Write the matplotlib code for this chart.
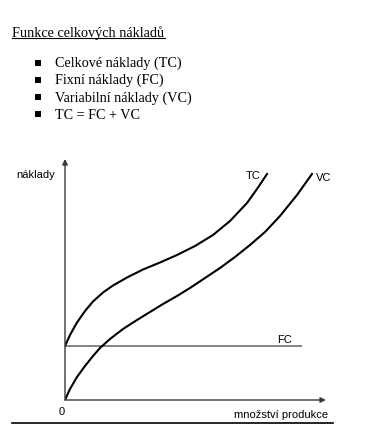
import matplotlib
matplotlib.use("Agg")
import matplotlib.pyplot as plt
from matplotlib.lines import Line2D
from matplotlib.patches import Rectangle

W, H = 365, 435

# curve data (output q vs. costs, arbitrary units)
q_tc = [0, 5, 12, 20, 28, 38, 48, 62, 78, 95, 112, 130, 148, 165, 182, 192, 202]
tc = [54, 65, 77.5, 89, 98.5, 107.5, 114.5, 122.5, 130.5, 137.5, 145, 154, 165,
      179, 197, 211, 226]
q_vc = [0, 5, 12, 20, 28, 35, 45, 58, 72, 85, 98, 112, 125, 140, 155, 170, 185,
        200, 215, 232, 247]
vc = [0, 11, 23, 34, 44, 52, 61, 71, 80, 88, 96, 104, 112, 122, 132, 143, 155,
      168, 184, 205, 226]
fc = 54
q_fc_end = 237

title = "Funkce celkových nákladů"
bullets = ["Celkové náklady (TC)", "Fixní náklady (FC)",
           "Variabilní náklady (VC)", "TC = FC + VC"]


def fx(x):
    return x / W


def fy(y):
    return 1 - y / H


fig = plt.figure(figsize=(W / 100, H / 100), dpi=100)
fig.patch.set_facecolor("white")

serif = "Liberation Serif"
sans = "Liberation Sans"

# header
fig.text(fx(12), fy(37), title, family=serif, fontsize=10.3, va="baseline")
fig.add_artist(Line2D([fx(12), fx(165)], [fy(38.8), fy(38.8)], color="black", lw=0.8))

for i, b in enumerate(bullets):
    yc = 63.5 + i * 17.2
    fig.add_artist(Rectangle((fx(35), fy(yc + 3)), 6 / W, 6 / H,
                             transform=fig.transFigure, color="black", lw=0))
    fig.text(fx(55), fy(yc), b, family=serif, fontsize=10.2, va="center")

# chart area, data units ~ pixels from origin
ax = fig.add_axes([fx(65), fy(401), 262 / W, 243 / H])
ax.set_xlim(0, 262)
ax.set_ylim(0, 243)
ax.axis("off")

axis_col = "#3a3a3a"
ax.annotate("", xy=(261, 0), xytext=(0, 0),
            arrowprops=dict(arrowstyle="-|>", color=axis_col, lw=1,
                            mutation_scale=8, shrinkA=0, shrinkB=0))
ax.annotate("", xy=(0, 241), xytext=(0, 0),
            arrowprops=dict(arrowstyle="-|>", color=axis_col, lw=1,
                            mutation_scale=8, shrinkA=0, shrinkB=0))

ax.plot([0, q_fc_end], [fc, fc], color="#7a7a7a", lw=1.3, solid_capstyle="butt")
ax.plot(q_tc, tc, color="black", lw=1.5, solid_joinstyle="round")
ax.plot(q_vc, vc, color="black", lw=1.5, solid_joinstyle="round")

ax.text(q_tc[-1] - 6, tc[-1] - 1, "TC", family=sans, fontsize=8, ha="right", va="center")
ax.text(q_vc[-1] + 4, vc[-1] - 3, "VC", family=sans, fontsize=8, ha="left", va="center")
ax.text(q_fc_end - 10, fc + 7, "FC", family=sans, fontsize=8, ha="right", va="center")

fig.text(fx(62), fy(412), "0", family=sans, fontsize=8, ha="center", va="center")
fig.text(fx(16), fy(175), "náklady", family=sans, fontsize=8, ha="left", va="center")
fig.text(fx(328), fy(415), "množství produkce", family=sans, fontsize=8,
         ha="right", va="center")

# bottom rule
fig.add_artist(Line2D([fx(12), fx(333)], [fy(424), fy(424)], color="black", lw=1.2))

fig.savefig("out.png", dpi=100, facecolor="white")
